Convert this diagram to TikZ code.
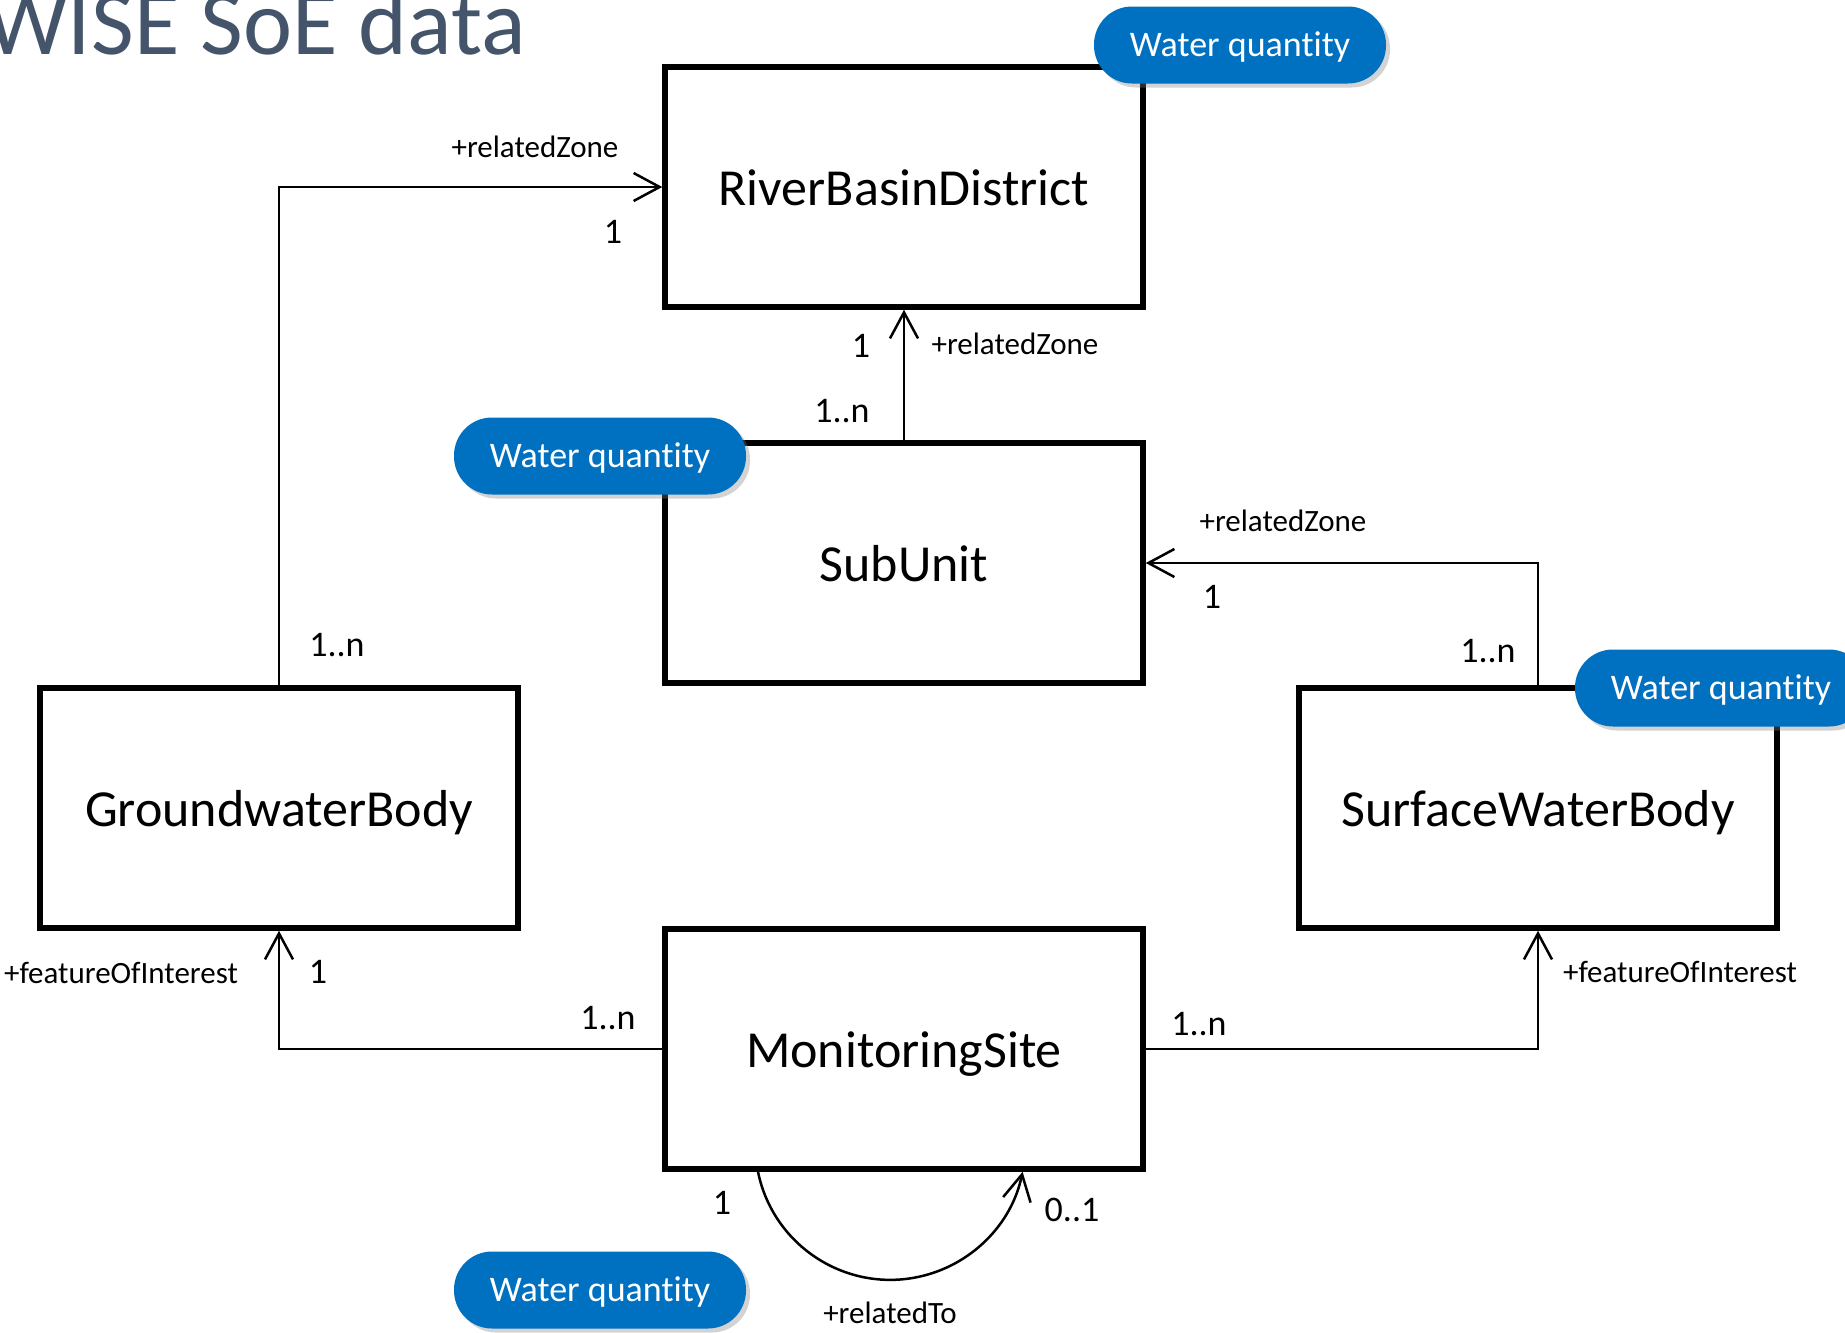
\documentclass[tikz,border=0pt]{standalone}
\usepackage{fontspec}
\setmainfont{Carlito}[Ligatures=NoCommon]
\usetikzlibrary{arrows.meta,shadows}
\definecolor{wqblue}{HTML}{0070C0}
\definecolor{titlegray}{HTML}{44546A}

\begin{document}
\begin{tikzpicture}[x=1pt, y=-1pt,
  cls/.style={draw, line width=5.5pt, minimum width=478pt, minimum height=240pt, inner sep=0pt, text height=44.7pt, text depth=7.3pt, font=\fontsize{52}{60}\selectfont},
  tag/.style={fill=wqblue, text=white, rounded corners=38pt, minimum width=292pt, minimum height=77pt, inner sep=0pt, text height=29.5pt, text depth=6.5pt, font=\fontsize{36}{42}\selectfont, drop shadow={shadow xshift=4pt, shadow yshift=-4pt, opacity=0.35}},
  assoc/.style={line width=2.5pt, -{Straight Barb[length=26pt, width=28pt]}},
  role/.style={font=\fontsize{31}{36}\selectfont, inner sep=0pt},
  mult/.style={font=\fontsize{36}{42}\selectfont, inner sep=0pt}]
\useasboundingbox (0,0) rectangle (1845,1333);
\clip (0,0) rectangle (1845,1333);

% Title
\node[anchor=base east, inner sep=0pt, text=titlegray, font=\fontsize{93}{110}\selectfont] (title) at (526,54) {WISE SoE data};

% Classes
\node[cls] (rbd) at (904,187) {RiverBasinDistrict};
\node[cls] (su) at (904,563) {SubUnit};
\node[cls] (gwb) at (279,808) {GroundwaterBody};
\node[cls] (swb) at (1538,808) {SurfaceWaterBody};
\node[cls] (ms) at (904,1049) {MonitoringSite};

% Associations
\draw[assoc] (gwb.north) |- (rbd.west);
\draw[assoc] (su.north) -- (rbd.south);
\draw[assoc] (swb.north) |- (su.east);
\draw[assoc] (ms.west) -| (gwb.south);
\draw[assoc] (ms.east) -| (swb.south);
\draw[assoc] ([xshift=-146pt]ms.south) arc[start angle=168.5, end angle=11.5, radius=135];

% Roles and multiplicities
\node[role] (rzgwb) at (535,147) {+relatedZone};
\node[mult] (m1rbd) at (613,232) {1};
\node[mult] (mngwb) at (337,645) {1..n};
\node[mult] (m1su) at (861,346) {1};
\node[role] (rzsu) at (1015,344) {+relatedZone};
\node[mult] (mnsu) at (842,411) {1..n};
\node[role] (rzswb) at (1283,521) {+relatedZone};
\node[mult] (m1swb) at (1212,597) {1};
\node[mult] (mnswb) at (1488,651) {1..n};
\node[role] (foigwb) at (121,973) {+featureOfInterest};
\node[mult] (m1gwb) at (318,972) {1};
\node[mult] (mnmsl) at (608,1018) {1..n};
\node[role] (foiswb) at (1680,972) {+featureOfInterest};
\node[mult] (mnmsr) at (1199,1024) {1..n};
\node[mult] (m1ms) at (722,1203) {1};
\node[mult] (m01ms) at (1072,1210) {0..1};
\node[role] (rtms) at (890,1313) {+relatedTo};

% Tags
\node[tag] (wqrbd) at (1240,45) {Water quantity};
\node[tag] (wqsu) at (600,456) {Water quantity};
\node[tag] (wqswb) at (1721,688) {Water quantity};
\node[tag] (wqms) at (600,1290) {Water quantity};

\end{tikzpicture}
\end{document}
